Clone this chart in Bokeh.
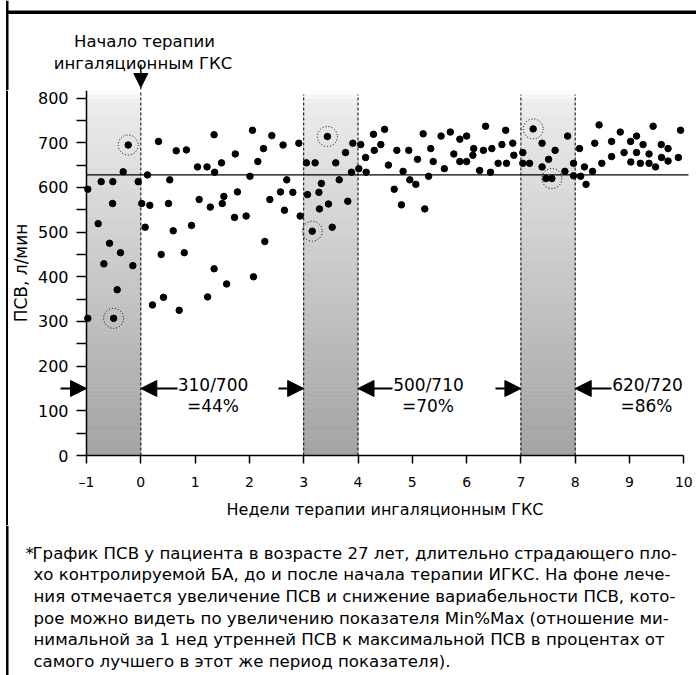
import numpy as np
from bokeh.plotting import figure
from bokeh.layouts import column, row
from bokeh.models import Arrow, NormalHead, FixedTicker, Range1d
from bokeh.core.properties import value
from bokeh.embed import file_html
from bokeh.resources import INLINE

# ---------------- data ----------------
# weeks of therapy (x) and morning PEF, l/min (y)
week_pre = [-0.976, -0.976, -0.785, -0.73, -0.68, -0.576, -0.52, -0.515, -0.50,
            -0.435, -0.374, -0.324, -0.232, -0.147, -0.048]
pef_pre = [596, 307, 519, 613, 429, 475, 564, 613, 307, 371, 454, 635, 695, 425, 613]

week_0_3 = [0.018, 0.08, 0.123, 0.166, 0.215, 0.326, 0.375, 0.418, 0.51, 0.534, 0.597,
            0.652, 0.707, 0.80, 0.84, 0.934, 1.044, 1.075, 1.22, 1.23, 1.28, 1.35, 1.35,
            1.36, 1.486, 1.50, 1.53, 1.58, 1.726, 1.74, 1.78, 1.94, 2.01, 2.057, 2.075,
            2.155, 2.26, 2.284, 2.376, 2.413, 2.573, 2.62, 2.646, 2.688, 2.80, 2.91, 2.935]
pef_0_3 = [564, 511, 628, 560, 337, 703, 450, 354, 564, 617, 503,
           682, 325, 454, 684, 515, 646, 573, 646, 355, 556, 418, 718,
           634, 655, 564, 580, 384, 533, 675, 590, 536, 625, 728, 400,
           658, 687, 479, 573, 716, 590, 695, 549, 617, 589, 699, 536]

week_3_4 = [3.05, 3.07, 3.157, 3.21, 3.28, 3.29, 3.325, 3.436, 3.457, 3.525, 3.59,
            3.654, 3.77, 3.812, 3.88, 3.905]
pef_3_4 = [655, 584, 502, 655, 589, 552, 609, 714, 563, 511, 655,
           617, 678, 569, 634, 699]

week_4_7 = [4.015, 4.05, 4.14, 4.15, 4.285, 4.30, 4.42, 4.49, 4.56, 4.667, 4.715, 4.80,
            4.83, 4.935, 4.954, 5.065, 5.096, 5.20, 5.23, 5.30, 5.34, 5.385, 5.53, 5.59,
            5.70, 5.765, 5.875, 5.875, 6.00, 6.00, 6.115, 6.13, 6.24, 6.31, 6.35, 6.44,
            6.465, 6.58, 6.65, 6.72, 6.735, 6.85, 6.87]
pef_4_7 = [642, 696, 667, 634, 719, 683, 696, 730, 650, 596, 683, 561,
           636, 683, 617, 607, 663, 720, 552, 625, 687, 658, 715, 642,
           724, 675, 708, 658, 715, 658, 672, 687, 638, 683, 737, 634,
           687, 654, 696, 728, 654, 699, 672]

week_7_8 = [7.035, 7.035, 7.16, 7.226, 7.39, 7.39, 7.46, 7.57, 7.51, 7.63, 7.81, 7.86,
            7.97, 7.97]
pef_7_8 = [678, 654, 654, 731, 699, 646, 620, 620, 663, 683, 636, 715, 654, 626]

week_8_10 = [8.08, 8.10, 8.17, 8.20, 8.32, 8.36, 8.44, 8.49, 8.67, 8.67, 8.83, 8.90,
             9.02, 9.025, 9.13, 9.13, 9.20, 9.25, 9.36, 9.36, 9.435, 9.48, 9.585, 9.59,
             9.71, 9.71, 9.90, 9.94]
pef_8_10 = [687, 625, 646, 607, 636, 699, 740, 654, 703, 669, 724, 678,
            703, 657, 715, 678, 654, 696, 675, 654, 737, 646, 696, 667,
            687, 659, 667, 728]

# weekly min / max points that are circled
circled_week = [-0.50, -0.232, 3.157, 3.436, 7.226, 7.57]
circled_pef = [307, 695, 502, 714, 731, 620]

reference_pef = 628              # horizontal reference line
band_starts = [-1, 3, 7]         # shaded one-week windows
band_edges = [0, 3, 4, 7, 8]     # dashed verticals
arrow_level = 150                # level of the min%max arrows
minmax_text = ["310/700", "500/710", "620/720"]
minmax_pct = ["=44%", "=70%", "=86%"]

x_ticks = list(range(-1, 11))
y_ticks = list(range(0, 900, 100))
y_minor = list(range(50, 800, 100))

start_note = ["Начало терапии", "ингаляционным ГКС"]
caption = [
    "График ПСВ у пациента в возрасте 27 лет, длительно страдающего пло-",
    "хо контролируемой БА, до и после начала терапии ИГКС. На фоне лече-",
    "ния отмечается увеличение ПСВ и снижение вариабельности ПСВ, кото-",
    "рое можно видеть по увеличению показателя Min%Max (отношение ми-",
    "нимальной за 1 нед утренней ПСВ к максимальной ПСВ в процентах от",
    "самого лучшего в этот же период показателя).",
]

# ---------------- geometry (page pixels) ----------------
W = 696
RW = 8                      # width of the left rule strip beside the chart
TOP_H, MAIN_H, BOT_H = 90, 435, 150
AXIS_PX = 86                # page x of week -1 (the y axis)
PLOT_RIGHT = 688            # page x where the reference line ends
FH = 365                    # pixels from PEF 0 up to the top of the chart
PX_PER_WEEK = 54.3
Y1 = 817.0
PX_PER_UNIT = FH / Y1
FRAME_BOTTOM = TOP_H + FH  # page y of PEF = 0


def X(page_x):
    return -1.0 + (page_x - AXIS_PX) / PX_PER_WEEK


def Y(page_y):
    return (FRAME_BOTTOM - page_y) / PX_PER_UNIT


XA, XB = X(RW), X(W)
YA = Y(TOP_H + MAIN_H)

FONT = "DejaVu Sans"
RULE_X0, RULE_X1 = 5.5, 8.0


def no_align(f):
    try:
        f.frame_align = False
    except Exception:
        pass


def blank_fig(width, height, y_top, y_bottom):
    f = figure(width=width, height=height, output_backend="svg", toolbar_location=None,
               x_range=Range1d(0, width), y_range=Range1d(y_bottom, y_top),
               x_axis_type=None, y_axis_type=None,
               min_border_left=0, min_border_right=0, min_border_top=0,
               min_border_bottom=0)
    no_align(f)
    f.outline_line_color = None
    f.grid.visible = False
    f.background_fill_color = "white"
    f.border_fill_color = "white"
    # left page rule
    f.quad(left=[RULE_X0], right=[RULE_X1], top=[y_top], bottom=[y_bottom],
           color="black", line_width=0)
    return f


# ---------------- top strip ----------------
top = blank_fig(W, TOP_H, 0, TOP_H)
top.quad(left=[RULE_X0], right=[W], top=[10], bottom=[13.5], color="black", line_width=0)
top.text(x=[144, 142.5], y=[40.7, 63.3], text=start_note, text_font=value(FONT),
         text_font_size="16.5px", text_align="center", text_baseline="alphabetic",
         text_color="black")
x0_page = AXIS_PX + PX_PER_WEEK
top.segment(x0=[x0_page], y0=[86], x1=[x0_page], y1=[TOP_H], line_color="black",
            line_width=1, line_dash="3 2")
top.add_layout(Arrow(end=NormalHead(size=14, fill_color="black", line_color="black",
                                    line_width=1),
                     x_start=x0_page, y_start=64, x_end=x0_page, y_end=87,
                     line_color="black", line_width=1.5))

# ---------------- left rule strip beside the chart ----------------
rule = blank_fig(RW, MAIN_H, TOP_H, TOP_H + MAIN_H)

# ---------------- main chart ----------------
p = figure(width=W - RW, height=MAIN_H, output_backend="svg", toolbar_location=None,
           x_range=Range1d(XA, XB), y_range=Range1d(YA, Y1),
           min_border_left=0, min_border_right=0, min_border_top=0,
           min_border_bottom=0)
no_align(p)
p.outline_line_color = None
p.grid.visible = False
p.background_fill_color = "white"
p.border_fill_color = "white"

# gradient bands
N = 90
edges = np.linspace(0, Y1, N + 1)
mids = (edges[:-1] + edges[1:]) / 2


def gray(v):
    if v <= 790:
        g = 163 + (236 - 163) * v / 790
    else:
        g = 236 + (255 - 236) * (v - 790) / (Y1 - 790)
    g = int(round(min(255, g)))
    return "#%02x%02x%02x" % (g, g, g)


cols = [gray(v) for v in mids]
for b in band_starts:
    p.quad(left=[b] * N, right=[b + 1] * N, bottom=edges[:-1], top=edges[1:],
           fill_color=cols, line_color=cols, line_width=0.7)

# dashed verticals
tops = [Y1 if e == 0 else Y(94) for e in band_edges]
p.segment(x0=band_edges, y0=[0] * len(band_edges), x1=band_edges, y1=tops,
          line_color="black", line_width=1, line_dash="3 2")

# reference line (from the y axis to the right edge of the chart)
p.segment(x0=[-1], y0=[reference_pef], x1=[X(PLOT_RIGHT)], y1=[reference_pef],
          line_color="black", line_width=1.2)

# points
for xs, ys in [(week_pre, pef_pre), (week_0_3, pef_0_3), (week_3_4, pef_3_4),
               (week_4_7, pef_4_7), (week_7_8, pef_7_8), (week_8_10, pef_8_10)]:
    p.scatter(xs, ys, size=6.5, color="black")

p.scatter(circled_week, circled_pef, size=20, fill_color=None, line_color="black",
          line_width=1, line_dash="1 2")

# axes, pinned at week -1 and PEF 0 inside the frame
p.xaxis.ticker = FixedTicker(ticks=x_ticks)
p.xaxis.major_label_overrides = {-1: "–1"}
p.xaxis.bounds = (-1, 10)
p.xaxis.fixed_location = 0
p.yaxis.ticker = FixedTicker(ticks=y_ticks, minor_ticks=y_minor)
p.yaxis.bounds = (0, Y1)
p.yaxis.fixed_location = -1
for ax in (p.xaxis[0], p.yaxis[0]):
    ax.axis_line_width = 1.5
    ax.major_tick_line_width = 1.5
    ax.minor_tick_line_width = 1.5
    ax.major_tick_in = 0
    ax.minor_tick_in = 0
    ax.axis_label_text_font = FONT
    ax.axis_label_text_font_style = "normal"
    ax.axis_label_text_color = "black"
    ax.major_label_text_font = FONT
    ax.major_label_text_color = "black"
    ax.axis_line_color = "black"
    ax.major_tick_line_color = "black"
    ax.minor_tick_line_color = "black"
p.xaxis.major_tick_out = 8
p.xaxis.minor_tick_line_color = None
p.xaxis.major_label_standoff = 10
p.xaxis.major_label_text_font_size = "14px"
p.xaxis.axis_label = "Недели терапии ингаляционным ГКС"
p.xaxis.axis_label_text_font_size = "16px"
p.xaxis.axis_label_standoff = 7
p.yaxis.major_tick_out = 10
p.yaxis.minor_tick_out = 10
p.yaxis.major_label_standoff = 8
p.yaxis.major_label_text_font_size = "16px"
p.yaxis.axis_label = "ПСВ, л/мин"
p.yaxis.axis_label_text_font_size = "17px"
p.yaxis.axis_label_standoff = 4


def make_arrow(xs, ys, xe, ye, size=16, width=2):
    return Arrow(end=NormalHead(size=size, fill_color="black", line_color="black",
                                line_width=1),
                 x_start=xs, y_start=ys, x_end=xe, y_end=ye,
                 line_color="black", line_width=width)


# min%max arrows
ya = arrow_level
for xs, xe in [(X(60), -1), (X(177), 0), (X(278), 3), (X(392), 4), (X(495), 7),
               (X(611), 8)]:
    p.add_layout(make_arrow(xs, ya, xe, ya))
p.text(x=[X(c) for c in (212.5, 428, 647)], y=[Y(384)] * 3, text=minmax_text,
       text_font=value(FONT), text_font_size="17px", text_align="center",
       text_baseline="alphabetic", text_color="black")
p.text(x=[X(c) for c in (212.5, 427.5, 646)], y=[Y(405.5)] * 3, text=minmax_pct,
       text_font=value(FONT), text_font_size="17px", text_align="center",
       text_baseline="alphabetic", text_color="black")

# ---------------- caption strip ----------------
y_top_b = TOP_H + MAIN_H
bot = blank_fig(W, BOT_H, y_top_b, y_top_b + BOT_H)
base = [552.8 + 21.6 * i for i in range(len(caption))]
bot.text(x=[25], y=[base[0]], text=["*"], text_font=value(FONT), text_font_size="16.6px",
         text_align="left", text_baseline="alphabetic", text_color="black")
bot.text(x=[32] + [33] * (len(caption) - 1), y=base, text=caption, text_font=value(FONT),
         text_font_size="16.6px", text_align="left", text_baseline="alphabetic",
         text_color="black")

layout = column(top, row(rule, p, spacing=0), bot, spacing=0)
open("out.html", "w").write(file_html(layout, INLINE))
